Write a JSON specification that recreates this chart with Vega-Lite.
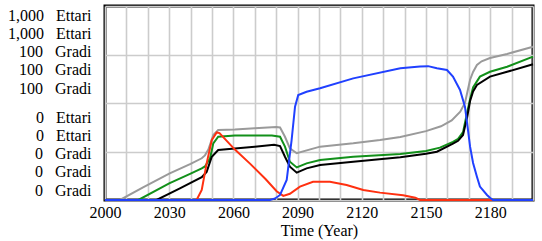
{
  "$schema": "https://vega.github.io/schema/vega-lite/v6.json",
  "width": 428,
  "height": 194,
  "autosize": {"type": "none"},
  "padding": {"left": 105, "top": 6, "right": 9, "bottom": 41},
  "background": "white",
  "config": {
    "view": {"stroke": "black", "strokeWidth": 3}
  },
  "data": {
    "values": [
      {"t": 2000, "s": "grigio", "v": 0}, {"t": 2007, "s": "grigio", "v": 0}, {"t": 2018, "s": "grigio", "v": 6.6}, {"t": 2030, "s": "grigio", "v": 13.6}, {"t": 2040, "s": "grigio", "v": 18.6}, {"t": 2045.2, "s": "grigio", "v": 21.5}, {"t": 2046.7, "s": "grigio", "v": 23}, {"t": 2048.3, "s": "grigio", "v": 26}, {"t": 2050.6, "s": "grigio", "v": 33.5}, {"t": 2052.9, "s": "grigio", "v": 36.1}, {"t": 2060.7, "s": "grigio", "v": 36.4}, {"t": 2070, "s": "grigio", "v": 37}, {"t": 2080, "s": "grigio", "v": 37.6}, {"t": 2081.8, "s": "grigio", "v": 37.4}, {"t": 2084.1, "s": "grigio", "v": 32.6}, {"t": 2086.4, "s": "grigio", "v": 26.6}, {"t": 2089.6, "s": "grigio", "v": 24.1}, {"t": 2100.5, "s": "grigio", "v": 27.5}, {"t": 2116, "s": "grigio", "v": 29.2}, {"t": 2128.5, "s": "grigio", "v": 30.9}, {"t": 2138, "s": "grigio", "v": 32.5}, {"t": 2150, "s": "grigio", "v": 35.5}, {"t": 2157, "s": "grigio", "v": 38}, {"t": 2162, "s": "grigio", "v": 41}, {"t": 2166, "s": "grigio", "v": 45.5}, {"t": 2168.2, "s": "grigio", "v": 50}, {"t": 2169.6, "s": "grigio", "v": 57}, {"t": 2170.6, "s": "grigio", "v": 62}, {"t": 2172, "s": "grigio", "v": 66}, {"t": 2173.8, "s": "grigio", "v": 69.6}, {"t": 2176, "s": "grigio", "v": 71.5}, {"t": 2179.9, "s": "grigio", "v": 73.2}, {"t": 2187.9, "s": "grigio", "v": 75.3}, {"t": 2200, "s": "grigio", "v": 79},

      {"t": 2000, "s": "verde", "v": 0}, {"t": 2015.6, "s": "verde", "v": 0}, {"t": 2030, "s": "verde", "v": 8.6}, {"t": 2040, "s": "verde", "v": 13.6}, {"t": 2045.2, "s": "verde", "v": 16.3}, {"t": 2046.7, "s": "verde", "v": 17.3}, {"t": 2049.1, "s": "verde", "v": 21.5}, {"t": 2050.6, "s": "verde", "v": 29.2}, {"t": 2052.9, "s": "verde", "v": 32.6}, {"t": 2060.7, "s": "verde", "v": 33.3}, {"t": 2078, "s": "verde", "v": 33.3}, {"t": 2081.8, "s": "verde", "v": 32.6}, {"t": 2084.1, "s": "verde", "v": 27.5}, {"t": 2086.4, "s": "verde", "v": 19.7}, {"t": 2089.6, "s": "verde", "v": 16.8}, {"t": 2094.2, "s": "verde", "v": 18.9}, {"t": 2100.5, "s": "verde", "v": 20.6}, {"t": 2116, "s": "verde", "v": 22.3}, {"t": 2138, "s": "verde", "v": 23.7}, {"t": 2150, "s": "verde", "v": 25.3}, {"t": 2156.5, "s": "verde", "v": 27}, {"t": 2162.6, "s": "verde", "v": 30}, {"t": 2165, "s": "verde", "v": 31.5}, {"t": 2167.3, "s": "verde", "v": 35}, {"t": 2169.2, "s": "verde", "v": 45}, {"t": 2170.6, "s": "verde", "v": 52}, {"t": 2172, "s": "verde", "v": 58}, {"t": 2175.2, "s": "verde", "v": 63.6}, {"t": 2179.9, "s": "verde", "v": 66.1}, {"t": 2187.9, "s": "verde", "v": 68.7}, {"t": 2200, "s": "verde", "v": 73.9},

      {"t": 2000, "s": "nero", "v": 0}, {"t": 2024.1, "s": "nero", "v": 0}, {"t": 2035, "s": "nero", "v": 6}, {"t": 2045.2, "s": "nero", "v": 11.8}, {"t": 2047.5, "s": "nero", "v": 14.5}, {"t": 2049.9, "s": "nero", "v": 22.3}, {"t": 2052.9, "s": "nero", "v": 25.8}, {"t": 2060.7, "s": "nero", "v": 26.6}, {"t": 2070, "s": "nero", "v": 27.5}, {"t": 2079, "s": "nero", "v": 28.5}, {"t": 2081.8, "s": "nero", "v": 27.8}, {"t": 2084.1, "s": "nero", "v": 22.3}, {"t": 2086.4, "s": "nero", "v": 17.2}, {"t": 2089.6, "s": "nero", "v": 14.1}, {"t": 2094.2, "s": "nero", "v": 16.3}, {"t": 2100.5, "s": "nero", "v": 18}, {"t": 2116, "s": "nero", "v": 19.7}, {"t": 2138, "s": "nero", "v": 22}, {"t": 2150, "s": "nero", "v": 23.8}, {"t": 2155.1, "s": "nero", "v": 24.9}, {"t": 2162.6, "s": "nero", "v": 29}, {"t": 2165, "s": "nero", "v": 30.5}, {"t": 2167.3, "s": "nero", "v": 33.5}, {"t": 2169.2, "s": "nero", "v": 42.5}, {"t": 2170.6, "s": "nero", "v": 51}, {"t": 2172, "s": "nero", "v": 56}, {"t": 2173.8, "s": "nero", "v": 59.3}, {"t": 2179.9, "s": "nero", "v": 63.6}, {"t": 2187.9, "s": "nero", "v": 66.1}, {"t": 2200, "s": "nero", "v": 70},

      {"t": 2000, "s": "rosso", "v": 0}, {"t": 2042.8, "s": "rosso", "v": 0}, {"t": 2045.2, "s": "rosso", "v": 5.2}, {"t": 2047.5, "s": "rosso", "v": 18.9}, {"t": 2049.9, "s": "rosso", "v": 30.9}, {"t": 2052.2, "s": "rosso", "v": 34.8}, {"t": 2053.5, "s": "rosso", "v": 34.5}, {"t": 2060.7, "s": "rosso", "v": 26}, {"t": 2068, "s": "rosso", "v": 18.5}, {"t": 2075, "s": "rosso", "v": 10.8}, {"t": 2080.2, "s": "rosso", "v": 4.5}, {"t": 2083.3, "s": "rosso", "v": 2.1}, {"t": 2086.4, "s": "rosso", "v": 3.2}, {"t": 2091.1, "s": "rosso", "v": 6.9}, {"t": 2097.2, "s": "rosso", "v": 9.4}, {"t": 2105.1, "s": "rosso", "v": 9.4}, {"t": 2112.9, "s": "rosso", "v": 7.7}, {"t": 2120.7, "s": "rosso", "v": 5.2}, {"t": 2128.5, "s": "rosso", "v": 3.8}, {"t": 2139.3, "s": "rosso", "v": 2.4}, {"t": 2145, "s": "rosso", "v": 1.2}, {"t": 2147.2, "s": "rosso", "v": 0}, {"t": 2200, "s": "rosso", "v": 0},

      {"t": 2000, "s": "blu", "v": 0}, {"t": 2077.1, "s": "blu", "v": 0}, {"t": 2079.5, "s": "blu", "v": 0.8}, {"t": 2081.8, "s": "blu", "v": 2.6}, {"t": 2084.9, "s": "blu", "v": 10.3}, {"t": 2087.2, "s": "blu", "v": 30.9}, {"t": 2088.8, "s": "blu", "v": 48.1}, {"t": 2090.3, "s": "blu", "v": 54.1}, {"t": 2094.2, "s": "blu", "v": 55.8}, {"t": 2100.5, "s": "blu", "v": 57.6}, {"t": 2116, "s": "blu", "v": 62.7}, {"t": 2138, "s": "blu", "v": 67.9}, {"t": 2147.2, "s": "blu", "v": 68.8}, {"t": 2151, "s": "blu", "v": 69}, {"t": 2155.1, "s": "blu", "v": 67.9}, {"t": 2159.8, "s": "blu", "v": 67}, {"t": 2162.6, "s": "blu", "v": 63.6}, {"t": 2165.9, "s": "blu", "v": 56.7}, {"t": 2168.2, "s": "blu", "v": 48.1}, {"t": 2169.2, "s": "blu", "v": 39.7}, {"t": 2170.6, "s": "blu", "v": 27.5}, {"t": 2172, "s": "blu", "v": 19.1}, {"t": 2173.8, "s": "blu", "v": 12}, {"t": 2175.2, "s": "blu", "v": 6.9}, {"t": 2178.5, "s": "blu", "v": 2.6}, {"t": 2179.9, "s": "blu", "v": 1.2}, {"t": 2181.3, "s": "blu", "v": 0}, {"t": 2200, "s": "blu", "v": 0}
    ]
  },
  "encoding": {
    "x": {
      "field": "t",
      "type": "quantitative",
      "scale": {"domain": [2000, 2200], "nice": false, "zero": false},
      "axis": {
        "title": "Time (Year)",
        "values": [2000, 2010, 2020, 2030, 2040, 2050, 2060, 2070, 2080, 2090, 2100, 2110, 2120, 2130, 2140, 2150, 2160, 2170, 2180, 2190, 2200],
        "format": "d",
        "labelExpr": "(datum.value - 2000) % 30 == 0 && datum.value <= 2180 ? datum.label : ''",
        "labelFlush": false,
        "labelOverlap": false,
        "labelPadding": 4,
        "titlePadding": 2,
        "labelFont": "serif",
        "titleFont": "serif",
        "labelFontSize": 16,
        "titleFontSize": 16,
        "titleFontWeight": "normal",
        "labelColor": "black",
        "titleColor": "black",
        "gridColor": "#cccccc",
        "gridWidth": 1.6,
        "domain": false,
        "ticks": false
      }
    },
    "y": {
      "field": "v",
      "type": "quantitative",
      "scale": {"domain": [0, 100], "nice": false},
      "axis": {
        "title": null,
        "values": [0, 25, 50, 75, 100],
        "labelExpr": "datum.value == 100 ? ['1,000\u00a0\u00a0\u00a0Ettari', '1,000\u00a0\u00a0\u00a0Ettari', '100\u00a0\u00a0\u00a0Gradi', '100\u00a0\u00a0\u00a0Gradi', '100\u00a0\u00a0\u00a0Gradi'] : datum.value == 0 ? ['0\u00a0\u00a0\u00a0Ettari', '0\u00a0\u00a0\u00a0Ettari', '0\u00a0\u00a0\u00a0Gradi', '0\u00a0\u00a0\u00a0Gradi', '0\u00a0\u00a0\u00a0Gradi'] : ''",
        "labelBaseline": {"condition": {"test": "datum.value == 100", "value": "line-top"}, "value": "bottom"},
        "labelOffset": {"condition": {"test": "datum.value == 0", "value": -75}, "value": 0},
        "labelLineHeight": 18.3,
        "labelPadding": 14,
        "labelBound": false,
        "labelOverlap": false,
        "labelFont": "serif",
        "labelFontSize": 16,
        "labelColor": "black",
        "gridColor": "#cccccc",
        "gridWidth": 1.6,
        "domain": false,
        "ticks": false
      }
    }
  },
  "layer": [
    {"transform": [{"filter": "datum.s == 'grigio'"}], "mark": {"type": "line", "color": "#9a9a9a", "strokeWidth": 2}},
    {"transform": [{"filter": "datum.s == 'verde'"}], "mark": {"type": "line", "color": "#12901a", "strokeWidth": 2}},
    {"transform": [{"filter": "datum.s == 'nero'"}], "mark": {"type": "line", "color": "#000000", "strokeWidth": 2}},
    {"transform": [{"filter": "datum.s == 'rosso'"}], "mark": {"type": "line", "color": "#ff3010", "strokeWidth": 2}},
    {"transform": [{"filter": "datum.s == 'blu'"}], "mark": {"type": "line", "color": "#2040ff", "strokeWidth": 2}}
  ]
}
